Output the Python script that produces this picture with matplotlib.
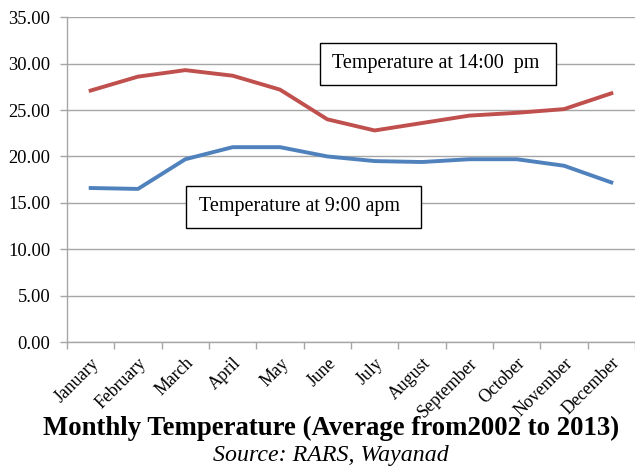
import matplotlib
matplotlib.use("Agg")
import matplotlib.pyplot as plt
from matplotlib.patches import Rectangle
import numpy as np

months = ["January", "February", "March", "April", "May", "June", "July",
          "August", "September", "October", "November", "December"]
temp_14 = [27.1, 28.6, 29.3, 28.7, 27.2, 24.0, 22.8, 23.6, 24.4, 24.7, 25.1, 26.8]
temp_9 = [16.6, 16.5, 19.7, 21.0, 21.0, 20.0, 19.5, 19.4, 19.7, 19.7, 19.0, 17.2]
y_ticks = [0, 5, 10, 15, 20, 25, 30, 35]

plt.rcParams["font.family"] = ["Liberation Serif", "DejaVu Serif"]

fig = plt.figure(figsize=(6.35, 4.66), dpi=100)
ax = fig.add_axes([0.1055, 0.266, 0.8945, 0.697])

x = np.arange(len(months))
ax.plot(x, temp_14, color="#C0504D", lw=2.8, solid_joinstyle="round", zorder=3)
ax.plot(x, temp_9, color="#4F81BD", lw=2.8, solid_joinstyle="round", zorder=3)

ax.set_xlim(-0.5, len(months) - 0.5)
ax.set_ylim(0, 35)
ax.set_yticks(y_ticks)
ax.set_yticklabels([f"{v:.2f}" for v in y_ticks], fontsize=13.3)
ax.yaxis.grid(True, color="#A6A6A6", lw=1.0)
ax.set_axisbelow(True)

# category labels centred under each month, tick marks between months
ax.set_xticks(x)
ax.set_xticklabels(months, rotation=45, ha="right", rotation_mode="anchor", fontsize=12.8)
ax.set_xticks(np.arange(len(months) + 1) - 0.5, minor=True)
ax.tick_params(axis="x", which="major", length=0, pad=9)
ax.tick_params(axis="x", which="minor", length=5, color="#A6A6A6", width=1)
ax.tick_params(axis="y", length=5, color="#A6A6A6", width=1, pad=7)

for side in ["top", "right"]:
    ax.spines[side].set_visible(False)
for side in ["left", "bottom"]:
    ax.spines[side].set_color("#A6A6A6")
    ax.spines[side].set_linewidth(1.0)

# series callout boxes (figure-fraction coordinates)
def callout(x0, y0, w, h, tx, label):
    fig.patches.append(Rectangle((x0, y0), w, h, transform=fig.transFigure,
                                 fc="white", ec="black", lw=1.0, zorder=5))
    fig.text(tx, y0 + h / 2, label, fontsize=14.5, ha="left", va="center",
             zorder=6)

callout(0.504, 0.818, 0.372, 0.090, 0.523, "Temperature at 14:00  pm")
callout(0.293, 0.511, 0.370, 0.090, 0.313, "Temperature at 9:00 apm")

fig.text(0.5215, 0.0665, "Monthly Temperature (Average from2002 to 2013)",
         fontsize=19.3, fontweight="bold", ha="center", va="baseline")
fig.text(0.521, 0.011, "Source: RARS, Wayanad", fontsize=17.2, style="italic",
         ha="center", va="baseline")

fig.savefig("out.png", dpi=100)
